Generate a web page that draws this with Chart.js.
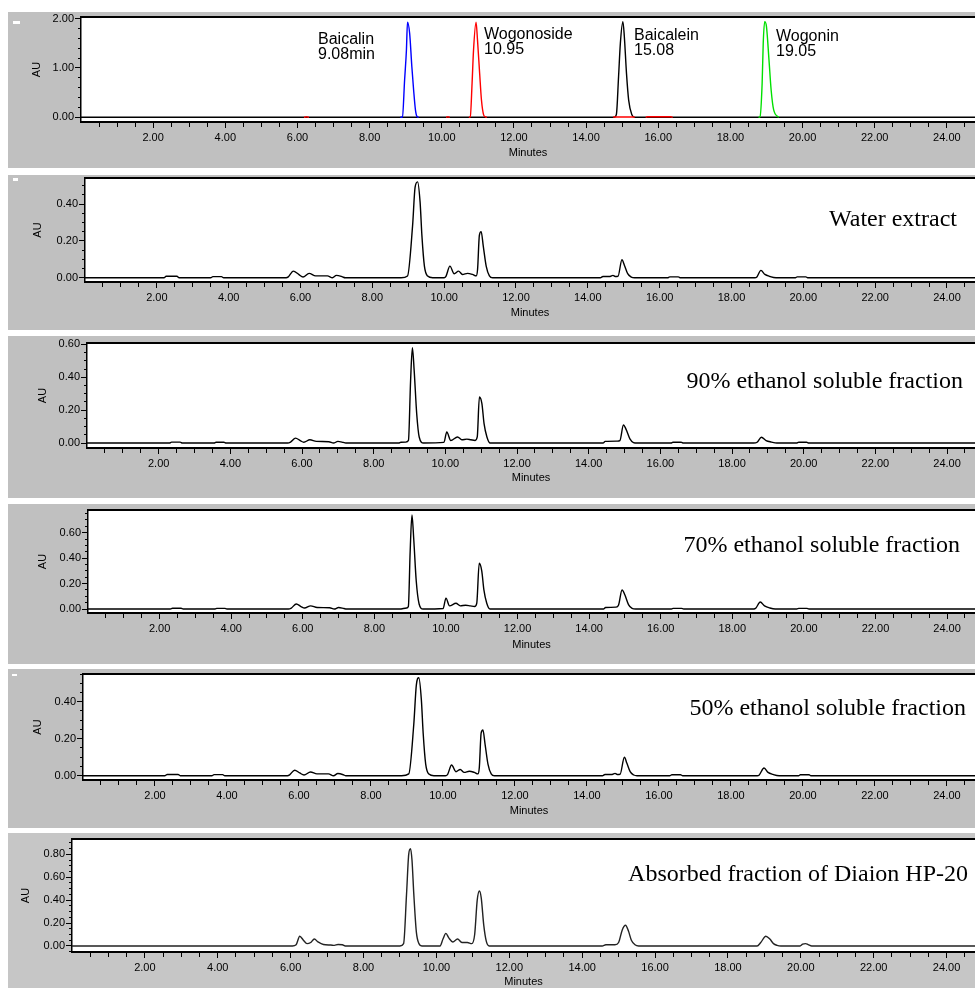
<!DOCTYPE html>
<html>
<head>
<meta charset="utf-8">
<script src="https://cdn.jsdelivr.net/npm/chart.js@4.4.1/dist/chart.umd.min.js"></script>
<style>
  body { margin: 0; width: 975px; height: 988px; overflow: hidden; position: relative; background: #fff;
         font-family: "Liberation Sans", Arial, sans-serif; }
  .panel { position: absolute; left: 8px; width: 967px; background: #c0c0c0; overflow: hidden; }
  .panel canvas { position: absolute; left: 0; top: 0; }
  .title { position: absolute; font-family: "Liberation Serif", "Times New Roman", serif; font-size: 24px;
           line-height: 24px; color: #000; white-space: nowrap; }
  .peak { position: absolute; font-size: 16px; line-height: 15px; color: #000; white-space: nowrap; }
  .mark { position: absolute; background: #fff; }
</style>
</head>
<body>
<script>
// ========================
// DATA  (retention time in min, absorbance in AU)
// ========================
const baicalinStd = [[8.85,0],[8.91,0.01],[8.97,0.76],[9.02,1.36],[9.05,1.93],[9.11,1.7],[9.17,1.03],[9.22,0.55],[9.27,0.15],[9.31,0.02],[9.36,0]];
const wogonosideStd = [[6.18,0],[6.25,0.012],[6.32,0],[6.33,null],[10.12,0],[10.17,0.01],[10.22,0],[10.23,null],
  [10.75,0],[10.79,0.01],[10.84,0.69],[10.88,1.36],[10.95,1.93],[10.99,1.57],[11.05,0.89],[11.1,0.35],[11.16,0.05],[11.21,0.01],[11.25,0],[11.26,null],
  [14.75,0.005],[15.35,0.005],[15.36,null],[15.65,0],[15.7,0.012],[16.35,0.012],[16.4,0]];
const baicaleinStd = [[0,0],[14.78,0],[14.84,0.06],[14.9,0.82],[14.95,1.5],[15.02,1.94],[15.06,1.64],[15.12,0.89],[15.18,0.35],[15.27,0.05],[15.34,0],[24.8,0]];
const wogoninStd = [[18.78,0],[18.82,0.01],[18.88,0.69],[18.91,1.5],[18.95,1.94],[19.0,1.84],[19.07,1.16],[19.13,0.55],[19.2,0.15],[19.34,0]];

const waterExtract = [[0,0],[2.2,0],[2.26,0.008],[2.56,0.008],[2.62,0],[3.5,0],[3.56,0.006],[3.8,0.006],[3.86,0],
  [5.6,0],[5.66,0.005],[5.8,0.036],[5.95,0.018],[6.07,0.004],[6.24,0.024],[6.42,0.01],[6.75,0.01],[6.89,0],[7.0,0.013],[7.17,0.005],[7.24,0],
  [8.8,0],[8.98,0.01],[9.12,0.28],[9.19,0.49],[9.26,0.52],[9.33,0.41],[9.38,0.23],[9.45,0.063],[9.54,0.009],[9.68,0],
  [10.0,0],[10.05,0.008],[10.16,0.063],[10.28,0.022],[10.4,0.036],[10.51,0.018],[10.65,0.024],[10.79,0.018],[10.89,0.01],
  [10.93,0.045],[10.98,0.23],[11.03,0.25],[11.09,0.17],[11.17,0.063],[11.26,0.01],[11.35,0],
  [14.35,0],[14.42,0.007],[14.62,0.007],[14.7,0.013],[14.76,0.007],[14.84,0.008],[14.95,0.098],[15.02,0.067],[15.11,0.022],[15.21,0.004],[15.3,0],
  [16.22,0],[16.28,0.005],[16.52,0.005],[16.58,0],[18.65,0],[18.7,0.003],[18.82,0.04],[18.93,0.018],[19.07,0.007],[19.24,0],
  [19.78,0],[19.83,0.005],[20.07,0.005],[20.12,0],[24.8,0]];

const ethanol90 = [[0,0],[2.3,0],[2.36,0.006],[2.6,0.006],[2.66,0],[3.55,0],[3.6,0.005],[3.82,0.005],[3.88,0],
  [5.6,0],[5.68,0.006],[5.82,0.03],[5.95,0.015],[6.05,0.005],[6.22,0.02],[6.4,0.01],[6.75,0.008],[6.88,0],[7.0,0.01],[7.15,0.004],[7.22,0],
  [8.7,0],[8.76,0.005],[8.9,0.006],[8.97,0.016],[9.03,0.38],[9.08,0.58],[9.13,0.44],[9.2,0.18],[9.27,0.037],[9.39,0],
  [9.96,0.004],[10.04,0.067],[10.15,0.016],[10.34,0.037],[10.46,0.02],[10.6,0.024],[10.71,0.02],[10.83,0.016],
  [10.89,0.037],[10.95,0.28],[11.02,0.24],[11.08,0.118],[11.16,0.037],[11.25,0],
  [14.4,0],[14.46,0.01],[14.8,0.012],[14.87,0.015],[14.97,0.11],[15.05,0.08],[15.15,0.025],[15.25,0.003],[15.35,0],
  [16.3,0],[16.35,0.005],[16.58,0.005],[16.64,0],[18.6,0],[18.7,0.005],[18.82,0.035],[18.95,0.015],[19.1,0.006],[19.25,0],
  [19.8,0],[19.86,0.005],[20.08,0.005],[20.14,0],[24.8,0]];

const ethanol70 = [[0,0],[2.3,0],[2.36,0.006],[2.6,0.006],[2.66,0],[3.55,0],[3.6,0.005],[3.82,0.005],[3.88,0],
  [5.6,0],[5.68,0.008],[5.82,0.04],[5.95,0.02],[6.05,0.008],[6.22,0.025],[6.4,0.012],[6.75,0.01],[6.88,0],[7.0,0.012],[7.15,0.004],[7.22,0],
  [8.7,0],[8.9,0.008],[8.95,0.02],[9.0,0.45],[9.05,0.74],[9.1,0.55],[9.17,0.22],[9.25,0.04],[9.36,0],
  [9.92,0.004],[10.0,0.086],[10.1,0.025],[10.28,0.045],[10.4,0.025],[10.55,0.03],[10.68,0.025],[10.8,0.02],
  [10.86,0.045],[10.93,0.36],[11.0,0.3],[11.06,0.15],[11.14,0.045],[11.23,0],
  [14.4,0],[14.46,0.012],[14.75,0.015],[14.82,0.03],[14.92,0.15],[15.0,0.11],[15.1,0.035],[15.2,0.005],[15.3,0],
  [16.3,0],[16.35,0.005],[16.58,0.005],[16.64,0],[18.55,0],[18.65,0.006],[18.78,0.055],[18.9,0.025],[19.05,0.008],[19.2,0],
  [19.8,0],[19.86,0.005],[20.08,0.005],[20.14,0],[24.8,0]];

const ethanol50 = [[0,0],[2.28,0],[2.34,0.007],[2.64,0.007],[2.7,0],[3.58,0],[3.64,0.006],[3.88,0.006],[3.94,0],
  [5.68,0],[5.74,0.005],[5.88,0.03],[6.02,0.015],[6.14,0.004],[6.32,0.02],[6.5,0.01],[6.82,0.01],[6.96,0],[7.08,0.012],[7.24,0.005],[7.3,0],
  [8.85,0],[9.05,0.01],[9.19,0.28],[9.26,0.49],[9.33,0.53],[9.4,0.41],[9.45,0.23],[9.52,0.063],[9.61,0.009],[9.75,0],
  [10.07,0],[10.13,0.008],[10.24,0.058],[10.36,0.022],[10.48,0.034],[10.59,0.018],[10.73,0.024],[10.87,0.018],[10.97,0.01],
  [11.01,0.045],[11.06,0.23],[11.11,0.247],[11.17,0.17],[11.25,0.063],[11.34,0.01],[11.43,0],
  [14.43,0],[14.5,0.007],[14.7,0.007],[14.78,0.013],[14.84,0.007],[14.92,0.008],[15.04,0.1],[15.11,0.067],[15.2,0.022],[15.3,0.004],[15.39,0],
  [16.3,0],[16.36,0.005],[16.6,0.005],[16.66,0],[18.73,0],[18.78,0.003],[18.92,0.042],[19.03,0.018],[19.17,0.007],[19.34,0],
  [19.88,0],[19.93,0.005],[20.17,0.005],[20.22,0],[24.8,0]];

const diaionHP20 = [[0,0],[6.05,0],[6.15,0.01],[6.25,0.085],[6.35,0.05],[6.45,0.02],[6.55,0.03],[6.65,0.06],[6.75,0.035],[6.9,0.012],
  [7.1,0.008],[7.2,0.005],[7.3,0.012],[7.42,0.01],[7.5,0],
  [9.0,0],[9.1,0.02],[9.18,0.45],[9.24,0.8],[9.29,0.85],[9.33,0.75],[9.38,0.45],[9.45,0.12],[9.52,0.02],[9.6,0],
  [10.1,0],[10.18,0.06],[10.26,0.11],[10.34,0.07],[10.45,0.035],[10.58,0.06],[10.7,0.03],[10.85,0.03],[10.97,0.02],
  [11.05,0.1],[11.12,0.4],[11.18,0.48],[11.23,0.42],[11.3,0.18],[11.37,0.04],[11.45,0],
  [14.55,0],[14.65,0.01],[14.9,0.01],[15.0,0.03],[15.1,0.14],[15.19,0.18],[15.27,0.13],[15.35,0.05],[15.45,0.01],[15.55,0],
  [18.8,0],[18.9,0.03],[19.04,0.085],[19.15,0.06],[19.25,0.02],[19.35,0.005],[19.45,0],
  [19.98,0],[20.05,0.015],[20.13,0.02],[20.2,0.012],[20.3,0],[24.8,0]];

const panelTitles = ["Water extract", "90% ethanol soluble fraction", "70% ethanol soluble fraction",
  "50% ethanol soluble fraction", "Absorbed fraction of Diaion HP-20"];
const peakNames = ["Baicalin", "Wogonoside", "Baicalein", "Wogonin"];
const peakTimes = ["9.08min", "10.95", "15.08", "19.05"];
const xTitle = "Minutes";
const yTitle = "AU";

// ========================
// LAYOUT
// ========================
const X_MAX = 24.78;
const FONT = "Liberation Sans";

const panels = [
  { top: 12,  h: 156, padTop: 5, yw: 73, xh: 46, ymin: -0.095, ymax: 2.034, yMinor: 0.2,  yMajor: 1,   auPad: 22, minPad: 8,
    series: [ { data: baicalinStd, color: "#0000ff" }, { data: wogonosideStd, color: "#ff0000" },
              { data: wogoninStd, color: "#00e000" }, { data: baicaleinStd, color: "#000000" } ] },
  { top: 175, h: 155, padTop: 3, yw: 77, xh: 48, ymin: -0.023, ymax: 0.541, yMinor: 0.05, yMajor: 0.2, auPad: 23, minPad: 10,
    series: [ { data: waterExtract, color: "#000" } ] },
  { top: 336, h: 162, padTop: 7, yw: 79, xh: 50, ymin: -0.03,  ymax: 0.608, yMinor: 0.05, yMajor: 0.2, auPad: 28, minPad: 13,
    series: [ { data: ethanol90, color: "#000" } ] },
  { top: 504, h: 160, padTop: 6, yw: 80, xh: 51, ymin: -0.031, ymax: 0.778, yMinor: 0.05, yMajor: 0.2, auPad: 28, minPad: 12,
    series: [ { data: ethanol70, color: "#000" } ] },
  { top: 669, h: 159, padTop: 5, yw: 75, xh: 48, ymin: -0.023, ymax: 0.55,  yMinor: 0.05, yMajor: 0.2, auPad: 23, minPad: 10,
    series: [ { data: ethanol50, color: "#000" } ] },
  { top: 833, h: 155, padTop: 6, yw: 64, xh: 36, ymin: -0.053, ymax: 0.934, yMinor: 0.05, yMajor: 0.2, auPad: 11, minPad: -1,
    series: [ { data: diaionHP20, color: "#222" } ], bg: "#c6c6c6" },
];

const titlePos = [ { right: 957, cy: 218 }, { right: 963, cy: 380 }, { right: 960, cy: 544 },
                   { right: 966, cy: 707 }, { right: 968, cy: 873 } ];
const peakPos = [ { x: 318, top: 31 }, { x: 484, top: 26 }, { x: 634, top: 27 }, { x: 776, top: 28 } ];
const marks = [ { x: 13, y: 21, w: 7, h: 3 }, { x: 13, y: 178, w: 5, h: 3 }, { x: 12, y: 674, w: 5, h: 2 } ];

const isMajor = (v, step) => Math.abs(v / step - Math.round(v / step)) < 1e-6;

// white plot area
const plotBg = {
  id: "plotBg",
  beforeDraw(chart) {
    const { ctx, chartArea: a } = chart;
    ctx.save();
    ctx.fillStyle = "#fff";
    ctx.fillRect(a.left, a.top, a.right - a.left, a.bottom - a.top);
    ctx.restore();
  },
};

function makePanel(p) {
  const wrap = document.createElement("div");
  wrap.className = "panel";
  wrap.style.top = p.top + "px";
  wrap.style.height = p.h + "px";
  if (p.bg) wrap.style.background = p.bg;
  const canvas = document.createElement("canvas");
  canvas.width = 967;
  canvas.height = p.h;
  wrap.appendChild(canvas);
  document.body.appendChild(wrap);

  const tickFont = { family: FONT, size: 11 };

  new Chart(canvas, {
    type: "line",
    data: {
      datasets: p.series.map((s) => ({
        data: s.data.map(([x, y]) => ({ x, y })),
        borderColor: s.color,
        borderWidth: 1.4,
        pointRadius: 0,
        fill: false,
        spanGaps: false,
        cubicInterpolationMode: "monotone",
      })),
    },
    options: {
      responsive: false,
      animation: false,
      devicePixelRatio: 1,
      layout: { autoPadding: false, padding: { top: p.padTop, left: 0, right: 0, bottom: 0 } },
      plugins: { legend: { display: false }, tooltip: { enabled: false } },
      scales: {
        x: {
          type: "linear", position: "bottom", min: 0, max: X_MAX,
          ticks: {
            stepSize: 0.5, autoSkip: false, includeBounds: false, maxRotation: 0, minRotation: 0,
            padding: 3, color: "#000", font: tickFont,
            callback: (v) => (v > 0 && isMajor(v, 2) ? v.toFixed(2) : ""),
          },
          grid: {
            drawOnChartArea: false, tickLength: 6, tickColor: "#000", tickWidth: 1,
            tickBorderDash: (c) => (!c.tick ? [] : c.tick.value === 0 ? [0, 100] : isMajor(c.tick.value, 2) ? [] : [4, 100]),
          },
          border: { color: "#000", width: 2 },
          title: { display: true, text: xTitle, color: "#000", font: tickFont, padding: { top: 0, bottom: p.minPad } },
          afterFit: (s) => { s.height = p.xh; s.paddingLeft = 0; s.paddingRight = 0; },
        },
        xTop: {
          type: "linear", position: "top", min: 0, max: X_MAX,
          ticks: { display: false },
          grid: { drawOnChartArea: false, drawTicks: false },
          border: { color: "#000", width: 2 },
          afterFit: (s) => { s.height = 0; s.paddingLeft = 0; s.paddingRight = 0; },
        },
        y: {
          type: "linear", min: p.ymin, max: p.ymax,
          ticks: {
            stepSize: p.yMinor, autoSkip: false, includeBounds: false, padding: 1, color: "#000", font: tickFont,
            callback: (v) => (isMajor(v, p.yMajor) ? v.toFixed(2) : ""),
          },
          grid: {
            drawOnChartArea: false, tickLength: 6, tickColor: "#000", tickWidth: 1,
            tickBorderDash: (c) => (!c.tick || isMajor(c.tick.value, p.yMajor) ? [] : [0, 3, 3, 100]),
          },
          border: { color: "#000", width: 1.5 },
          title: { display: true, text: yTitle, color: "#000", font: tickFont, padding: { top: p.auPad, bottom: 0 } },
          afterFit: (s) => { s.width = p.yw; s.paddingTop = 0; s.paddingBottom = 0; },
        },
      },
    },
    plugins: [plotBg],
  });
}

panels.forEach(makePanel);

// panel captions
panelTitles.forEach((t, i) => {
  const d = document.createElement("div");
  d.className = "title";
  d.textContent = t;
  d.style.right = 975 - titlePos[i].right + "px";
  d.style.top = titlePos[i].cy - 12 + "px";
  document.body.appendChild(d);
});

// standard peak labels
peakNames.forEach((n, i) => {
  const d = document.createElement("div");
  d.className = "peak";
  d.innerHTML = n + "<br>" + peakTimes[i];
  d.style.left = peakPos[i].x + "px";
  d.style.top = peakPos[i].top + "px";
  document.body.appendChild(d);
});

// small white window marks
marks.forEach((m) => {
  const d = document.createElement("div");
  d.className = "mark";
  Object.assign(d.style, { left: m.x + "px", top: m.y + "px", width: m.w + "px", height: m.h + "px" });
  document.body.appendChild(d);
});
</script>
</body>
</html>
